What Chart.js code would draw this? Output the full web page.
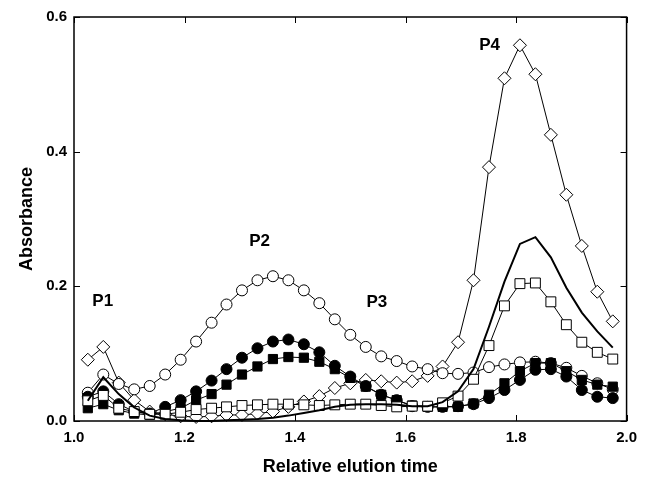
<!DOCTYPE html>
<html>
<head>
<meta charset="utf-8">
<script src="https://cdn.jsdelivr.net/npm/chart.js@4/dist/chart.umd.min.js"></script>
<style>
  html, body { margin: 0; padding: 0; background: #fff; }
  #c { display: block; }
</style>
</head>
<body>
<canvas id="c" width="645" height="481"></canvas>
<script>
// ---- data ----
const elutionTime = [1.025, 1.053, 1.081, 1.109, 1.137, 1.165, 1.193, 1.221, 1.249, 1.276,
  1.304, 1.332, 1.360, 1.388, 1.416, 1.444, 1.472, 1.500, 1.528, 1.556,
  1.584, 1.612, 1.640, 1.667, 1.695, 1.723, 1.751, 1.779, 1.807, 1.835,
  1.863, 1.891, 1.919, 1.947, 1.975];

const openDiamonds = [0.091, 0.110, 0.057, 0.031, 0.014, 0.010, 0.007, 0.006, 0.007, 0.009,
  0.009, 0.011, 0.014, 0.021, 0.029, 0.037, 0.049, 0.056, 0.061, 0.059,
  0.057, 0.059, 0.067, 0.081, 0.117, 0.209, 0.377, 0.509, 0.558, 0.515,
  0.425, 0.336, 0.260, 0.192, 0.148];

const openCircles = [0.042, 0.069, 0.055, 0.047, 0.052, 0.069, 0.091, 0.118, 0.146, 0.173,
  0.194, 0.209, 0.215, 0.209, 0.194, 0.175, 0.151, 0.128, 0.110, 0.096,
  0.089, 0.081, 0.077, 0.071, 0.070, 0.072, 0.080, 0.084, 0.087, 0.088,
  0.086, 0.079, 0.067, 0.056, 0.047];

const filledCircles = [0.036, 0.044, 0.025, 0.014, 0.011, 0.021, 0.031, 0.044, 0.060, 0.077,
  0.094, 0.108, 0.118, 0.121, 0.114, 0.102, 0.082, 0.066, 0.052, 0.039,
  0.031, 0.022, 0.021, 0.021, 0.022, 0.025, 0.034, 0.046, 0.061, 0.076,
  0.077, 0.066, 0.046, 0.036, 0.034];

const filledSquares = [0.019, 0.025, 0.016, 0.011, 0.009, 0.014, 0.019, 0.031, 0.040, 0.054,
  0.069, 0.081, 0.092, 0.095, 0.094, 0.088, 0.077, 0.064, 0.051, 0.039,
  0.031, 0.023, 0.021, 0.021, 0.021, 0.026, 0.039, 0.056, 0.074, 0.086,
  0.086, 0.074, 0.061, 0.054, 0.051];

const openSquares = [0.030, 0.038, 0.019, 0.014, 0.010, 0.010, 0.013, 0.017, 0.019, 0.021,
  0.023, 0.024, 0.025, 0.025, 0.024, 0.023, 0.024, 0.025, 0.025, 0.023,
  0.021, 0.022, 0.022, 0.027, 0.037, 0.062, 0.112, 0.171, 0.204, 0.205,
  0.177, 0.143, 0.117, 0.102, 0.092];

const solidLine = [0.030, 0.065, 0.040, 0.020, 0.008, 0.003, 0.001, 0.000, 0.000, 0.001,
  0.002, 0.003, 0.005, 0.008, 0.012, 0.016, 0.021, 0.024, 0.025, 0.025,
  0.024, 0.022, 0.022, 0.028, 0.044, 0.077, 0.140, 0.207, 0.263, 0.273,
  0.243, 0.198, 0.161, 0.133, 0.109];

const xTicks = [1.0, 1.2, 1.4, 1.6, 1.8, 2.0];
const yTicks = [0.0, 0.2, 0.4, 0.6];

const peakLabels = ['P1', 'P2', 'P3', 'P4'];
const peakLabelX = [1.052, 1.336, 1.548, 1.752];
const peakLabelY = [0.178, 0.267, 0.176, 0.558];

// ---- helpers ----
const FONT = '"Liberation Sans", Arial, Helvetica, sans-serif';
const pts = (ys) => ys.map((y, i) => ({ x: elutionTime[i], y }));

function series(ys, style, fill, radius, lineWidth) {
  return {
    data: pts(ys),
    borderColor: '#000',
    borderWidth: lineWidth,
    backgroundColor: fill,
    pointStyle: style,
    pointRadius: radius,
    pointBorderWidth: 1,
    pointBorderColor: '#000',
    pointBackgroundColor: fill,
    tension: 0,
    fill: false,
    clip: false
  };
}

const framePlugin = {
  id: 'frame',
  afterDatasetsDraw(chart) {
    const { ctx, chartArea: a, scales } = chart;
    ctx.save();
    ctx.strokeStyle = '#000';
    ctx.lineWidth = 1.5;
    ctx.strokeRect(a.left, a.top, a.right - a.left, a.bottom - a.top);
    ctx.lineWidth = 1;
    const L = 6;
    ctx.beginPath();
    xTicks.forEach(v => {
      const px = Math.round(scales.x.getPixelForValue(v)) + 0.5;
      ctx.moveTo(px, a.bottom); ctx.lineTo(px, a.bottom - L);
      ctx.moveTo(px, a.top); ctx.lineTo(px, a.top + L);
    });
    yTicks.forEach(v => {
      const py = Math.round(scales.y.getPixelForValue(v)) + 0.5;
      ctx.moveTo(a.left, py); ctx.lineTo(a.left + L, py);
      ctx.moveTo(a.right, py); ctx.lineTo(a.right - L, py);
    });
    ctx.stroke();
    // peak labels
    ctx.fillStyle = '#000';
    ctx.font = 'bold 17px ' + FONT;
    ctx.textAlign = 'center';
    ctx.textBaseline = 'middle';
    peakLabels.forEach((t, i) => {
      ctx.fillText(t, scales.x.getPixelForValue(peakLabelX[i]), scales.y.getPixelForValue(peakLabelY[i]));
    });
    ctx.restore();
  }
};

new Chart(document.getElementById('c'), {
  type: 'line',
  data: {
    datasets: [
      series(solidLine, false, '#000', 0, 2),
      series(openSquares, 'rect', '#fff', 7, 1),
      series(filledSquares, 'rect', '#000', 6.5, 1),
      series(filledCircles, 'circle', '#000', 5.5, 1),
      series(openCircles, 'circle', '#fff', 5.5, 1),
      series(openDiamonds, 'rectRot', '#fff', 6.5, 1)
    ]
  },
  options: {
    responsive: false,
    animation: false,
    devicePixelRatio: 1,
    layout: { padding: { top: 17, right: 11, left: 0, bottom: 0 } },
    plugins: { legend: { display: false }, tooltip: { enabled: false } },
    scales: {
      x: {
        type: 'linear', min: 1, max: 2,
        afterFit(s) { s.height = 60; },
        afterBuildTicks(s) { s.ticks = xTicks.map(v => ({ value: v })); },
        grid: { display: false, drawTicks: false, tickLength: 0 },
        border: { display: false },
        ticks: { padding: 8, color: '#000', font: { family: FONT, size: 15, weight: 'bold' },
          callback: v => Number(v).toFixed(1) },
        title: { display: true, text: 'Relative elution time', color: '#000',
          font: { family: FONT, size: 18, weight: 'bold' }, padding: { top: 0, bottom: 3 } }
      },
      y: {
        type: 'linear', min: 0, max: 0.6,
        afterFit(s) { s.width = 74; },
        afterBuildTicks(s) { s.ticks = yTicks.map(v => ({ value: v })); },
        grid: { display: false, drawTicks: false, tickLength: 0 },
        border: { display: false },
        ticks: { padding: 7, color: '#000', font: { family: FONT, size: 15, weight: 'bold' },
          callback: v => Number(v).toFixed(1) },
        title: { display: true, text: 'Absorbance', color: '#000',
          font: { family: FONT, size: 18, weight: 'bold' }, padding: { top: 16, bottom: 0 } }
      }
    }
  },
  plugins: [framePlugin]
});
</script>
</body>
</html>
